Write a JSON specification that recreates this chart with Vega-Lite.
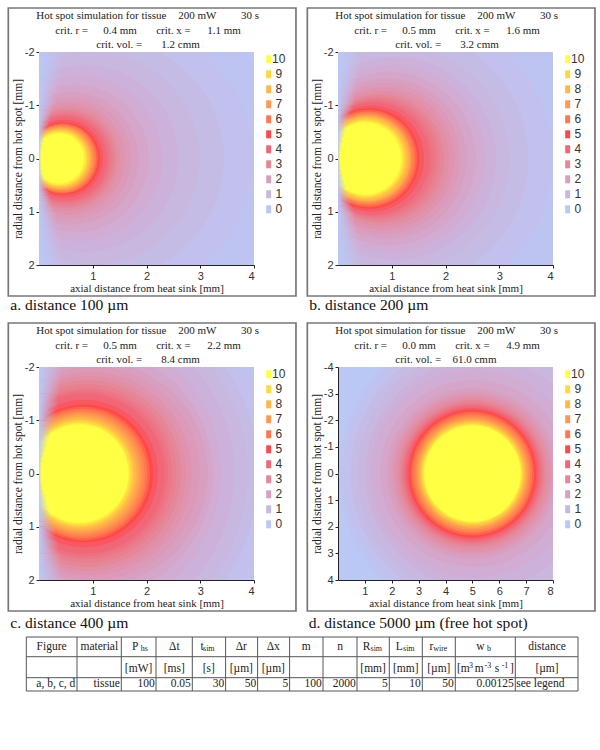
{
"$schema":"https://vega.github.io/schema/vega-lite/v6.json",
"padding":{"left":7,"top":7,"right":0,"bottom":0},
"background":"white",
"config":{"view":{"stroke":null},
"axis":{"grid":false,"labelFont":"Liberation Sans","labelFontSize":11,"labelColor":"#333","titleFont":"Liberation Serif","titleFontSize":11,"titleFontWeight":"normal","titleColor":"#222","domainColor":"#222","tickColor":"#222","tickSize":3,"labelPadding":2,"labelExpr":"''+datum.value"},
"text":{"font":"Liberation Serif","color":"#222"}},
"datasets":{
"iso":[
{"p":"a","x":1.6,"y":0,"r":3,"t":0.25},{"p":"a","x":1.45,"y":0,"r":2.55,"t":0.5},{"p":"a","x":1.2,"y":0,"r":2.25,"t":0.75},{"p":"a","x":1,"y":0,"r":2,"t":1},{"p":"a","x":0.85,"y":0,"r":1.75,"t":1.25},{"p":"a","x":0.75,"y":0,"r":1.55,"t":1.5},{"p":"a","x":0.67,"y":0,"r":1.38,"t":1.75},{"p":"a","x":0.61,"y":0,"r":1.24,"t":2},{"p":"a","x":0.58,"y":0,"r":1.14,"t":2.25},{"p":"a","x":0.55,"y":0,"r":1.05,"t":2.5},{"p":"a","x":0.53,"y":0,"r":0.98,"t":2.75},{"p":"a","x":0.52,"y":0,"r":0.93,"t":3},{"p":"a","x":0.51,"y":0,"r":0.89,"t":3.25},{"p":"a","x":0.5,"y":0,"r":0.85,"t":3.5},{"p":"a","x":0.49,"y":0,"r":0.82,"t":3.75},{"p":"a","x":0.48,"y":0,"r":0.79,"t":4},{"p":"a","x":0.47,"y":0,"r":0.73,"t":4.5},{"p":"a","x":0.46,"y":0,"r":0.68,"t":5},{"p":"a","x":0.44,"y":0,"r":0.66,"t":5.5},{"p":"a","x":0.43,"y":0,"r":0.64,"t":6},{"p":"a","x":0.42,"y":0,"r":0.62,"t":6.5},{"p":"a","x":0.41,"y":0,"r":0.6,"t":7},{"p":"a","x":0.4,"y":0,"r":0.58,"t":7.5},{"p":"a","x":0.4,"y":0,"r":0.56,"t":8},{"p":"a","x":0.39,"y":0,"r":0.54,"t":8.5},{"p":"a","x":0.38,"y":0,"r":0.52,"t":9},{"p":"a","x":0.38,"y":0,"r":0.5,"t":9.5},{"p":"a","x":0.37,"y":0,"r":0.47,"t":10},
{"p":"b","x":1.5,"y":0,"r":3.3,"t":0.25},{"p":"b","x":1.25,"y":0,"r":2.75,"t":0.5},{"p":"b","x":1.15,"y":0,"r":2.4,"t":0.75},{"p":"b","x":1.1,"y":0,"r":2.1,"t":1},{"p":"b","x":1.05,"y":0,"r":1.9,"t":1.25},{"p":"b","x":1,"y":0,"r":1.75,"t":1.5},{"p":"b","x":0.95,"y":0,"r":1.62,"t":1.75},{"p":"b","x":0.9,"y":0,"r":1.5,"t":2},{"p":"b","x":0.87,"y":0,"r":1.41,"t":2.25},{"p":"b","x":0.84,"y":0,"r":1.33,"t":2.5},{"p":"b","x":0.81,"y":0,"r":1.26,"t":2.75},{"p":"b","x":0.78,"y":0,"r":1.2,"t":3},{"p":"b","x":0.75,"y":0,"r":1.16,"t":3.25},{"p":"b","x":0.72,"y":0,"r":1.12,"t":3.5},{"p":"b","x":0.69,"y":0,"r":1.08,"t":3.75},{"p":"b","x":0.66,"y":0,"r":1.05,"t":4},{"p":"b","x":0.62,"y":0,"r":0.99,"t":4.5},{"p":"b","x":0.58,"y":0,"r":0.94,"t":5},{"p":"b","x":0.57,"y":0,"r":0.91,"t":5.5},{"p":"b","x":0.56,"y":0,"r":0.88,"t":6},{"p":"b","x":0.55,"y":0,"r":0.85,"t":6.5},{"p":"b","x":0.54,"y":0,"r":0.83,"t":7},{"p":"b","x":0.54,"y":0,"r":0.81,"t":7.5},{"p":"b","x":0.53,"y":0,"r":0.79,"t":8},{"p":"b","x":0.52,"y":0,"r":0.76,"t":8.5},{"p":"b","x":0.52,"y":0,"r":0.73,"t":9},{"p":"b","x":0.51,"y":0,"r":0.71,"t":9.5},{"p":"b","x":0.5,"y":0,"r":0.68,"t":10},
{"p":"c","x":0.6,"y":0,"r":4.4,"t":0.25},{"p":"c","x":0.6,"y":0,"r":3.8,"t":0.5},{"p":"c","x":0.6,"y":0,"r":3.5,"t":0.75},{"p":"c","x":0.6,"y":0,"r":3.3,"t":1},{"p":"c","x":0.65,"y":0,"r":3,"t":1.25},{"p":"c","x":0.7,"y":0,"r":2.7,"t":1.5},{"p":"c","x":0.9,"y":0,"r":2.35,"t":1.75},{"p":"c","x":1.05,"y":0,"r":2.1,"t":2},{"p":"c","x":1,"y":0,"r":2,"t":2.25},{"p":"c","x":0.95,"y":0,"r":1.9,"t":2.5},{"p":"c","x":0.92,"y":0,"r":1.82,"t":2.75},{"p":"c","x":0.9,"y":0,"r":1.75,"t":3},{"p":"c","x":0.89,"y":0,"r":1.67,"t":3.25},{"p":"c","x":0.88,"y":0,"r":1.6,"t":3.5},{"p":"c","x":0.86,"y":0,"r":1.55,"t":3.75},{"p":"c","x":0.85,"y":0,"r":1.5,"t":4},{"p":"c","x":0.84,"y":0,"r":1.38,"t":4.5},{"p":"c","x":0.84,"y":0,"r":1.29,"t":5},{"p":"c","x":0.82,"y":0,"r":1.25,"t":5.5},{"p":"c","x":0.81,"y":0,"r":1.21,"t":6},{"p":"c","x":0.8,"y":0,"r":1.17,"t":6.5},{"p":"c","x":0.79,"y":0,"r":1.13,"t":7},{"p":"c","x":0.78,"y":0,"r":1.09,"t":7.5},{"p":"c","x":0.77,"y":0,"r":1.05,"t":8},{"p":"c","x":0.76,"y":0,"r":1.01,"t":8.5},{"p":"c","x":0.76,"y":0,"r":0.98,"t":9},{"p":"c","x":0.75,"y":0,"r":0.95,"t":9.5},{"p":"c","x":0.75,"y":0,"r":0.92,"t":10},
{"p":"d","x":5.8,"y":0,"r":5.8,"t":0.25},{"p":"d","x":5.6,"y":0,"r":5.4,"t":0.5},{"p":"d","x":5.5,"y":0,"r":5.05,"t":0.75},{"p":"d","x":5.4,"y":0,"r":4.7,"t":1},{"p":"d","x":5.3,"y":0,"r":4.3,"t":1.25},{"p":"d","x":5.1,"y":0,"r":3.9,"t":1.5},{"p":"d","x":5.05,"y":0,"r":3.5,"t":1.75},{"p":"d","x":5,"y":0,"r":3.2,"t":2},{"p":"d","x":5,"y":0,"r":3.07,"t":2.25},{"p":"d","x":5,"y":0,"r":2.95,"t":2.5},{"p":"d","x":5,"y":0,"r":2.85,"t":2.75},{"p":"d","x":5,"y":0,"r":2.75,"t":3},{"p":"d","x":5,"y":0,"r":2.68,"t":3.25},{"p":"d","x":5,"y":0,"r":2.62,"t":3.5},{"p":"d","x":5,"y":0,"r":2.57,"t":3.75},{"p":"d","x":5,"y":0,"r":2.52,"t":4},{"p":"d","x":5,"y":0,"r":2.45,"t":4.5},{"p":"d","x":5,"y":0,"r":2.38,"t":5},{"p":"d","x":5,"y":0,"r":2.31,"t":5.5},{"p":"d","x":5,"y":0,"r":2.24,"t":6},{"p":"d","x":5,"y":0,"r":2.17,"t":6.5},{"p":"d","x":5,"y":0,"r":2.1,"t":7},{"p":"d","x":5,"y":0,"r":2.04,"t":7.5},{"p":"d","x":5,"y":0,"r":1.98,"t":8},{"p":"d","x":5,"y":0,"r":1.93,"t":8.5},{"p":"d","x":5,"y":0,"r":1.88,"t":9},{"p":"d","x":5,"y":0,"r":1.84,"t":9.5},{"p":"d","x":5,"y":0,"r":1.8,"t":10}
],
"fade":[
{"x":0,"y":-2,"y2":-1.75,"x2":0.42},{"x":0,"y":-1.75,"y2":-1.5,"x2":0.4},{"x":0,"y":-1.5,"y2":-1.25,"x2":0.36},{"x":0,"y":-1.25,"y2":-1,"x2":0.32},{"x":0,"y":-1,"y2":-0.9,"x2":0.28},{"x":0,"y":-0.9,"y2":-0.8,"x2":0.25},{"x":0,"y":-0.8,"y2":-0.7,"x2":0.22},{"x":0,"y":-0.7,"y2":-0.6,"x2":0.19},{"x":0,"y":-0.6,"y2":-0.5,"x2":0.16},{"x":0,"y":-0.5,"y2":-0.4,"x2":0.13},{"x":0,"y":-0.4,"y2":-0.3,"x2":0.1},{"x":0,"y":-0.3,"y2":-0.2,"x2":0.07},{"x":0,"y":-0.2,"y2":-0.1,"x2":0.05},{"x":0,"y":-0.1,"y2":0,"x2":0.04},
{"x":0,"y":0,"y2":0.1,"x2":0.04},{"x":0,"y":0.1,"y2":0.2,"x2":0.05},{"x":0,"y":0.2,"y2":0.3,"x2":0.07},{"x":0,"y":0.3,"y2":0.4,"x2":0.1},{"x":0,"y":0.4,"y2":0.5,"x2":0.13},{"x":0,"y":0.5,"y2":0.6,"x2":0.16},{"x":0,"y":0.6,"y2":0.7,"x2":0.19},{"x":0,"y":0.7,"y2":0.8,"x2":0.22},{"x":0,"y":0.8,"y2":0.9,"x2":0.25},{"x":0,"y":0.9,"y2":1,"x2":0.28},{"x":0,"y":1,"y2":1.25,"x2":0.32},{"x":0,"y":1.25,"y2":1.5,"x2":0.36},{"x":0,"y":1.5,"y2":1.75,"x2":0.4},{"x":0,"y":1.75,"y2":2,"x2":0.42}
],
"leg4":[{"x":4.273,"y":-1.863,"t":10},{"x":4.273,"y":-1.581,"t":9},{"x":4.273,"y":-1.299,"t":8},{"x":4.273,"y":-1.018,"t":7},{"x":4.273,"y":-0.736,"t":6},{"x":4.273,"y":-0.454,"t":5},{"x":4.273,"y":-0.173,"t":4},{"x":4.273,"y":0.109,"t":3},{"x":4.273,"y":0.391,"t":2},{"x":4.273,"y":0.672,"t":1},{"x":4.273,"y":0.954,"t":0}],
"leg8":[{"x":8.546,"y":-3.726,"t":10},{"x":8.546,"y":-3.162,"t":9},{"x":8.546,"y":-2.598,"t":8},{"x":8.546,"y":-2.036,"t":7},{"x":8.546,"y":-1.472,"t":6},{"x":8.546,"y":-0.908,"t":5},{"x":8.546,"y":-0.346,"t":4},{"x":8.546,"y":0.218,"t":3},{"x":8.546,"y":0.782,"t":2},{"x":8.546,"y":1.344,"t":1},{"x":8.546,"y":1.908,"t":0}],
"lab4":[{"x":4.46,"y":-1.863,"s":"10"},{"x":4.46,"y":-1.581,"s":"9"},{"x":4.46,"y":-1.299,"s":"8"},{"x":4.46,"y":-1.018,"s":"7"},{"x":4.46,"y":-0.736,"s":"6"},{"x":4.46,"y":-0.454,"s":"5"},{"x":4.46,"y":-0.173,"s":"4"},{"x":4.46,"y":0.109,"s":"3"},{"x":4.46,"y":0.391,"s":"2"},{"x":4.46,"y":0.672,"s":"1"},{"x":4.46,"y":0.954,"s":"0"}],
"lab8":[{"x":8.92,"y":-3.726,"s":"10"},{"x":8.92,"y":-3.162,"s":"9"},{"x":8.92,"y":-2.598,"s":"8"},{"x":8.92,"y":-2.036,"s":"7"},{"x":8.92,"y":-1.472,"s":"6"},{"x":8.92,"y":-0.908,"s":"5"},{"x":8.92,"y":-0.346,"s":"4"},{"x":8.92,"y":0.218,"s":"3"},{"x":8.92,"y":0.782,"s":"2"},{"x":8.92,"y":1.344,"s":"1"},{"x":8.92,"y":1.908,"s":"0"}],
"txt":[
{"p":"a","x":-0.05,"y":-2.676,"s":"Hot spot simulation for tissue"},{"p":"a","x":2.59,"y":-2.676,"s":"200 mW"},{"p":"a","x":3.76,"y":-2.676,"s":"30 s"},{"p":"a","x":0.303,"y":-2.402,"s":"crit. r ="},{"p":"a","x":1.196,"y":-2.402,"s":"0.4 mm"},{"p":"a","x":2.18,"y":-2.402,"s":"crit. x ="},{"p":"a","x":3.13,"y":-2.402,"s":"1.1 mm"},{"p":"a","x":1.066,"y":-2.131,"s":"crit. vol. ="},{"p":"a","x":2.275,"y":-2.131,"s":"1.2 cmm"},
{"p":"b","x":-0.05,"y":-2.676,"s":"Hot spot simulation for tissue"},{"p":"b","x":2.59,"y":-2.676,"s":"200 mW"},{"p":"b","x":3.76,"y":-2.676,"s":"30 s"},{"p":"b","x":0.303,"y":-2.402,"s":"crit. r ="},{"p":"b","x":1.196,"y":-2.402,"s":"0.5 mm"},{"p":"b","x":2.18,"y":-2.402,"s":"crit. x ="},{"p":"b","x":3.13,"y":-2.402,"s":"1.6 mm"},{"p":"b","x":1.066,"y":-2.131,"s":"crit. vol. ="},{"p":"b","x":2.275,"y":-2.131,"s":"3.2 cmm"},
{"p":"c","x":-0.05,"y":-2.676,"s":"Hot spot simulation for tissue"},{"p":"c","x":2.59,"y":-2.676,"s":"200 mW"},{"p":"c","x":3.76,"y":-2.676,"s":"30 s"},{"p":"c","x":0.303,"y":-2.402,"s":"crit. r ="},{"p":"c","x":1.196,"y":-2.402,"s":"0.5 mm"},{"p":"c","x":2.18,"y":-2.402,"s":"crit. x ="},{"p":"c","x":3.13,"y":-2.402,"s":"2.2 mm"},{"p":"c","x":1.066,"y":-2.131,"s":"crit. vol. ="},{"p":"c","x":2.275,"y":-2.131,"s":"8.4 cmm"},
{"p":"d","x":-0.1,"y":-5.352,"s":"Hot spot simulation for tissue"},{"p":"d","x":5.18,"y":-5.352,"s":"200 mW"},{"p":"d","x":7.52,"y":-5.352,"s":"30 s"},{"p":"d","x":0.606,"y":-4.804,"s":"crit. r ="},{"p":"d","x":2.392,"y":-4.804,"s":"0.0 mm"},{"p":"d","x":4.36,"y":-4.804,"s":"crit. x ="},{"p":"d","x":6.26,"y":-4.804,"s":"4.9 mm"},{"p":"d","x":2.132,"y":-4.262,"s":"crit. vol. ="},{"p":"d","x":4.26,"y":-4.262,"s":"61.0 cmm"}
],
"cap":[{"p":"a","x":-0.534,"y":2.757,"s":"a. distance 100 µm"},{"p":"b","x":-0.534,"y":2.757,"s":"b. distance 200 µm"},{"p":"c","x":-0.534,"y":2.8,"s":"c. distance 400 µm"},{"p":"d","x":-1.09,"y":5.6,"s":"d. distance 5000 µm (free hot spot)"}],
"fr":[{"p":"s","x":-0.571,"x2":4.781,"y":-2.826,"y2":2.582},{"p":"d","x":-1.142,"x2":9.562,"y":-5.652,"y2":5.164}]
},
"resolve":{"scale":{"size":"independent"}},
"spacing":4,
"vconcat":[
{"vconcat":[
{"hconcat":[
{"width":215,"height":213,"view":{"fill":"#BAC8F6"},
"encoding":{"x":{"field":"x","type":"quantitative","title":"axial distance from heat sink [mm]","scale":{"domain":[0,4],"nice":false,"zero":false},"axis":{"values":[1,2,3,4],"titlePadding":1}},"y":{"field":"y","type":"quantitative","title":"radial distance from hot spot [mm]","scale":{"domain":[-2,2],"nice":false,"zero":false,"reverse":true},"axis":{"values":[-2,-1,0,1,2],"titlePadding":1,"titleFontSize":11.5}}},
"layer":[
{"data":{"name":"iso"},"transform":[{"filter":"datum.p=='a'"}],"mark":{"type":"point","shape":"circle","filled":true,"clip":true,"opacity":1},"encoding":{"size":{"field":"r","type":"quantitative","scale":{"type":"pow","exponent":2,"domain":[0,5],"range":[0,286225]},"legend":null},"color":{"field":"t","type":"quantitative","legend":null,"scale":{"domain":[0,1,2,3,4,5,6,7,8,9,10],"range":["#BAC8F6","#C8B8E0","#D8A0C0","#E48898","#F06878","#FF4848","#FF7850","#FF9850","#FFB848","#FFD840","#FFFF44"]}}}},
{"data":{"name":"fade"},"mark":{"type":"rect","color":{"gradient":"linear","x1":0,"x2":1,"y1":0,"y2":0,"stops":[{"offset":0,"color":"rgba(186,200,246,1)"},{"offset":1,"color":"rgba(186,200,246,0)"}]}},"encoding":{"x2":{"field":"x2"},"y2":{"field":"y2"}}},
{"data":{"name":"leg4"},"mark":{"type":"rect","width":5,"height":8},"encoding":{"color":{"field":"t","type":"quantitative","legend":null}}},
{"data":{"name":"lab4"},"mark":{"type":"text","font":"Liberation Sans","fontSize":12,"color":"#333"},"encoding":{"text":{"field":"s"}}},
{"data":{"name":"txt"},"transform":[{"filter":"datum.p=='a'"}],"mark":{"type":"text","align":"left","fontSize":11},"encoding":{"text":{"field":"s"}}},
{"data":{"name":"cap"},"transform":[{"filter":"datum.p=='a'"}],"mark":{"type":"text","align":"left","fontSize":15.6,"color":"#111"},"encoding":{"text":{"field":"s"}}},
{"data":{"name":"fr"},"transform":[{"filter":"datum.p=='s'"}],"mark":{"type":"rect","fillOpacity":0,"stroke":"#777","strokeWidth":1.7},"encoding":{"x2":{"field":"x2"},"y2":{"field":"y2"}}}
]},
{"width":215,"height":213,"view":{"fill":"#BAC8F6"},
"encoding":{"x":{"field":"x","type":"quantitative","title":"axial distance from heat sink [mm]","scale":{"domain":[0,4],"nice":false,"zero":false},"axis":{"values":[1,2,3,4],"titlePadding":1}},"y":{"field":"y","type":"quantitative","title":"radial distance from hot spot [mm]","scale":{"domain":[-2,2],"nice":false,"zero":false,"reverse":true},"axis":{"values":[-2,-1,0,1,2],"titlePadding":1,"titleFontSize":11.5}}},
"layer":[
{"data":{"name":"iso"},"transform":[{"filter":"datum.p=='b'"}],"mark":{"type":"point","shape":"circle","filled":true,"clip":true,"opacity":1},"encoding":{"size":{"field":"r","type":"quantitative","scale":{"type":"pow","exponent":2,"domain":[0,5],"range":[0,286225]},"legend":null},"color":{"field":"t","type":"quantitative","legend":null,"scale":{"domain":[0,1,2,3,4,5,6,7,8,9,10],"range":["#BAC8F6","#C8B8E0","#D8A0C0","#E48898","#F06878","#FF4848","#FF7850","#FF9850","#FFB848","#FFD840","#FFFF44"]}}}},
{"data":{"name":"fade"},"mark":{"type":"rect","color":{"gradient":"linear","x1":0,"x2":1,"y1":0,"y2":0,"stops":[{"offset":0,"color":"rgba(186,200,246,1)"},{"offset":1,"color":"rgba(186,200,246,0)"}]}},"encoding":{"x2":{"field":"x2"},"y2":{"field":"y2"}}},
{"data":{"name":"leg4"},"mark":{"type":"rect","width":5,"height":8},"encoding":{"color":{"field":"t","type":"quantitative","legend":null}}},
{"data":{"name":"lab4"},"mark":{"type":"text","font":"Liberation Sans","fontSize":12,"color":"#333"},"encoding":{"text":{"field":"s"}}},
{"data":{"name":"txt"},"transform":[{"filter":"datum.p=='b'"}],"mark":{"type":"text","align":"left","fontSize":11},"encoding":{"text":{"field":"s"}}},
{"data":{"name":"cap"},"transform":[{"filter":"datum.p=='b'"}],"mark":{"type":"text","align":"left","fontSize":15.6,"color":"#111"},"encoding":{"text":{"field":"s"}}},
{"data":{"name":"fr"},"transform":[{"filter":"datum.p=='s'"}],"mark":{"type":"rect","fillOpacity":0,"stroke":"#777","strokeWidth":1.7},"encoding":{"x2":{"field":"x2"},"y2":{"field":"y2"}}}
]}
],"spacing":9,"resolve":{"scale":{"size":"independent"}}},
{"hconcat":[
{"width":215,"height":213,"view":{"fill":"#BAC8F6"},
"encoding":{"x":{"field":"x","type":"quantitative","title":"axial distance from heat sink [mm]","scale":{"domain":[0,4],"nice":false,"zero":false},"axis":{"values":[1,2,3,4],"titlePadding":1}},"y":{"field":"y","type":"quantitative","title":"radial distance from hot spot [mm]","scale":{"domain":[-2,2],"nice":false,"zero":false,"reverse":true},"axis":{"values":[-2,-1,0,1,2],"titlePadding":1,"titleFontSize":11.5}}},
"layer":[
{"data":{"name":"iso"},"transform":[{"filter":"datum.p=='c'"}],"mark":{"type":"point","shape":"circle","filled":true,"clip":true,"opacity":1},"encoding":{"size":{"field":"r","type":"quantitative","scale":{"type":"pow","exponent":2,"domain":[0,5],"range":[0,286225]},"legend":null},"color":{"field":"t","type":"quantitative","legend":null,"scale":{"domain":[0,1,2,3,4,5,6,7,8,9,10],"range":["#BAC8F6","#C8B8E0","#D8A0C0","#E48898","#F06878","#FF4848","#FF7850","#FF9850","#FFB848","#FFD840","#FFFF44"]}}}},
{"data":{"name":"fade"},"mark":{"type":"rect","color":{"gradient":"linear","x1":0,"x2":1,"y1":0,"y2":0,"stops":[{"offset":0,"color":"rgba(186,200,246,1)"},{"offset":1,"color":"rgba(186,200,246,0)"}]}},"encoding":{"x2":{"field":"x2"},"y2":{"field":"y2"}}},
{"data":{"name":"leg4"},"mark":{"type":"rect","width":5,"height":8},"encoding":{"color":{"field":"t","type":"quantitative","legend":null}}},
{"data":{"name":"lab4"},"mark":{"type":"text","font":"Liberation Sans","fontSize":12,"color":"#333"},"encoding":{"text":{"field":"s"}}},
{"data":{"name":"txt"},"transform":[{"filter":"datum.p=='c'"}],"mark":{"type":"text","align":"left","fontSize":11},"encoding":{"text":{"field":"s"}}},
{"data":{"name":"cap"},"transform":[{"filter":"datum.p=='c'"}],"mark":{"type":"text","align":"left","fontSize":15.6,"color":"#111"},"encoding":{"text":{"field":"s"}}},
{"data":{"name":"fr"},"transform":[{"filter":"datum.p=='s'"}],"mark":{"type":"rect","fillOpacity":0,"stroke":"#777","strokeWidth":1.7},"encoding":{"x2":{"field":"x2"},"y2":{"field":"y2"}}}
]},
{"width":215,"height":213,"view":{"fill":"#BAC8F6"},
"encoding":{"x":{"field":"x","type":"quantitative","title":"axial distance from heat sink [mm]","scale":{"domain":[0,8],"nice":false,"zero":false},"axis":{"values":[1,2,3,4,5,6,7,8],"titlePadding":1}},"y":{"field":"y","type":"quantitative","title":"radial distance from hot spot [mm]","scale":{"domain":[-4,4],"nice":false,"zero":false,"reverse":true},"axis":{"values":[-4,-3,-2,-1,0,1,2,3,4],"titlePadding":1,"titleFontSize":11.5}}},
"layer":[
{"data":{"name":"iso"},"transform":[{"filter":"datum.p=='d'"}],"mark":{"type":"point","shape":"circle","filled":true,"clip":true,"opacity":1},"encoding":{"size":{"field":"r","type":"quantitative","scale":{"type":"pow","exponent":2,"domain":[0,10],"range":[0,286225]},"legend":null},"color":{"field":"t","type":"quantitative","legend":null,"scale":{"domain":[0,1,2,3,4,5,6,7,8,9,10],"range":["#BAC8F6","#C8B8E0","#D8A0C0","#E48898","#F06878","#FF4848","#FF7850","#FF9850","#FFB848","#FFD840","#FFFF44"]}}}},
{"data":{"name":"leg8"},"mark":{"type":"rect","width":5,"height":8},"encoding":{"color":{"field":"t","type":"quantitative","legend":null}}},
{"data":{"name":"lab8"},"mark":{"type":"text","font":"Liberation Sans","fontSize":12,"color":"#333"},"encoding":{"text":{"field":"s"}}},
{"data":{"name":"txt"},"transform":[{"filter":"datum.p=='d'"}],"mark":{"type":"text","align":"left","fontSize":11},"encoding":{"text":{"field":"s"}}},
{"data":{"name":"cap"},"transform":[{"filter":"datum.p=='d'"}],"mark":{"type":"text","align":"left","fontSize":15.6,"color":"#111"},"encoding":{"text":{"field":"s"}}},
{"data":{"name":"fr"},"transform":[{"filter":"datum.p=='d'"}],"mark":{"type":"rect","fillOpacity":0,"stroke":"#777","strokeWidth":1.7},"encoding":{"x2":{"field":"x2"},"y2":{"field":"y2"}}}
]}
],"spacing":9,"resolve":{"scale":{"size":"independent"}}}
],"spacing":8,"resolve":{"scale":{"size":"independent"}}},
{"width":540,"height":54,
"encoding":{"x":{"field":"x","type":"quantitative","scale":{"domain":[38.7,578.7],"nice":false,"zero":false},"axis":null},"y":{"field":"y","type":"quantitative","scale":{"domain":[637,691],"nice":false,"zero":false,"reverse":true},"axis":null}},
"layer":[
{"data":{"values":[{"x":26,"y":637,"y2":691},{"x":76.7,"y":637,"y2":691},{"x":121,"y":637,"y2":691},{"x":155.7,"y":637,"y2":691},{"x":192,"y":637,"y2":691},{"x":225.3,"y":637,"y2":691},{"x":257.3,"y":637,"y2":691},{"x":289.3,"y":637,"y2":691},{"x":322.7,"y":637,"y2":691},{"x":356.7,"y":637,"y2":691},{"x":389,"y":637,"y2":691},{"x":422,"y":637,"y2":691},{"x":455,"y":637,"y2":691},{"x":515,"y":637,"y2":691},{"x":577.7,"y":637,"y2":691}]},"mark":{"type":"rule","color":"#555","strokeWidth":1},"encoding":{"y2":{"field":"y2"}}},
{"data":{"values":[{"x":26,"x2":577.7,"y":637},{"x":26,"x2":577.7,"y":656.7},{"x":26,"x2":577.7,"y":677.7},{"x":26,"x2":577.7,"y":691}]},"mark":{"type":"rule","color":"#555","strokeWidth":1},"encoding":{"x2":{"field":"x2"}}},
{"data":{"values":[{"x":51.3,"y":646.7,"s":"Figure"},{"x":99,"y":646.7,"s":"material"},{"x":135,"y":646.7,"s":"P"},{"x":174,"y":646.7,"s":"Δt"},{"x":201.7,"y":646.7,"s":"t"},{"x":241,"y":646.7,"s":"Δr"},{"x":273,"y":646.7,"s":"Δx"},{"x":306,"y":646.7,"s":"m"},{"x":339.7,"y":646.7,"s":"n"},{"x":366.3,"y":646.7,"s":"R"},{"x":399,"y":646.7,"s":"L"},{"x":431,"y":646.7,"s":"r"},{"x":480,"y":646.7,"s":"w"},{"x":546.7,"y":646.7,"s":"distance"},{"x":138.3,"y":669.3,"s":"[mW]"},{"x":174,"y":669.3,"s":"[ms]"},{"x":208.5,"y":669.3,"s":"[s]"},{"x":241,"y":669.3,"s":"[µm]"},{"x":273,"y":669.3,"s":"[µm]"},{"x":372.8,"y":669.3,"s":"[mm]"},{"x":405.5,"y":669.3,"s":"[mm]"},{"x":438.5,"y":669.3,"s":"[µm]"},{"x":463,"y":669.3,"s":"[m"},{"x":479,"y":669.3,"s":"m"},{"x":496.7,"y":669.3,"s":"s"},{"x":511.7,"y":669.3,"s":"]"},{"x":546.7,"y":669.3,"s":"[µm]"},{"x":540,"y":684.3,"s":"see legend"}]},"mark":{"type":"text","fontSize":11.5},"encoding":{"text":{"field":"s"}}},
{"data":{"values":[{"x":144,"y":649,"s":"hs"},{"x":208.5,"y":649,"s":"sim"},{"x":376,"y":649,"s":"sim"},{"x":408.5,"y":649,"s":"sim"},{"x":440,"y":649,"s":"wire"},{"x":488.7,"y":649,"s":"b"},{"x":470.6,"y":666,"s":"3"},{"x":487.5,"y":666,"s":"-3"},{"x":504.7,"y":666,"s":"-1"}]},"mark":{"type":"text","fontSize":8},"encoding":{"text":{"field":"s"}}},
{"data":{"values":[{"x":75,"y":684.3,"s":"a, b, c, d"},{"x":119.5,"y":684.3,"s":"tissue"},{"x":154.5,"y":684.3,"s":"100"},{"x":190.5,"y":684.3,"s":"0.05"},{"x":224,"y":684.3,"s":"30"},{"x":256,"y":684.3,"s":"50"},{"x":288,"y":684.3,"s":"5"},{"x":321.5,"y":684.3,"s":"100"},{"x":355.5,"y":684.3,"s":"2000"},{"x":387.5,"y":684.3,"s":"5"},{"x":420.5,"y":684.3,"s":"10"},{"x":453.5,"y":684.3,"s":"50"},{"x":513.5,"y":684.3,"s":"0.00125"}]},"mark":{"type":"text","fontSize":11.5,"align":"right"},"encoding":{"text":{"field":"s"}}}
]}
]}
